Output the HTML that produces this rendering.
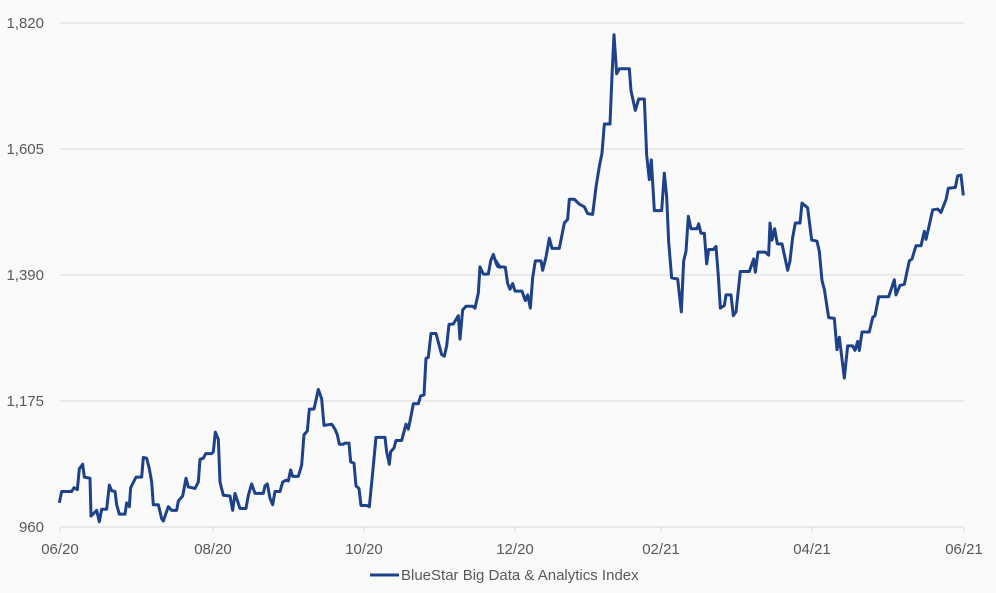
<!DOCTYPE html>
<html><head><meta charset="utf-8"><style>
html,body{margin:0;padding:0;background:#fafafa;}
svg{display:block;font-family:"Liberation Sans",sans-serif;}
</style></head><body>
<svg width="996" height="593" viewBox="0 0 996 593">
<rect width="996" height="593" fill="#fafafa"/>
<g stroke="#d9d9d9" stroke-width="1">
<line x1="60" y1="23" x2="964" y2="23"/>
<line x1="60" y1="149" x2="964" y2="149"/>
<line x1="60" y1="275" x2="964" y2="275"/>
<line x1="60" y1="401" x2="964" y2="401"/>
<line x1="60" y1="527" x2="964" y2="527"/>
<line x1="60" y1="527" x2="60" y2="533"/>
<line x1="213" y1="527" x2="213" y2="533"/>
<line x1="364" y1="527" x2="364" y2="533"/>
<line x1="515" y1="527" x2="515" y2="533"/>
<line x1="661" y1="527" x2="661" y2="533"/>
<line x1="812" y1="527" x2="812" y2="533"/>
<line x1="964" y1="527" x2="964" y2="533"/>
</g>
<g fill="#595959" font-size="15" text-anchor="end">
<text x="44" y="28">1,820</text>
<text x="44" y="154">1,605</text>
<text x="44" y="280">1,390</text>
<text x="44" y="406">1,175</text>
<text x="44" y="532">960</text>
</g>
<g fill="#595959" font-size="15" text-anchor="middle">
<text x="60" y="554">06/20</text>
<text x="213" y="554">08/20</text>
<text x="364" y="554">10/20</text>
<text x="515" y="554">12/20</text>
<text x="661" y="554">02/21</text>
<text x="812" y="554">04/21</text>
<text x="964" y="554">06/21</text>
</g>
<g transform="scale(0.33333,0.37807)">
<polyline fill="none" stroke="#1d4289" stroke-width="3" vector-effect="non-scaling-stroke" stroke-linejoin="round" points="178,1330 185,1300 215,1300 222,1290 232,1295 238,1240 248,1228 253,1262 270,1265 273,1365 290,1350 298,1380 305,1347 320,1347 328,1283 335,1298 345,1300 350,1335 358,1360 375,1360 380,1330 388,1340 392,1290 408,1262 425,1262 430,1210 440,1212 448,1240 455,1275 460,1335 475,1335 485,1372 490,1378 505,1340 515,1350 530,1350 535,1325 548,1312 558,1265 565,1288 585,1292 595,1275 600,1215 610,1212 617,1200 635,1200 640,1195 646,1143 655,1162 660,1275 670,1310 690,1312 698,1350 705,1305 720,1345 738,1345 745,1310 755,1280 765,1305 790,1305 795,1285 802,1280 810,1318 818,1335 825,1300 840,1300 848,1275 858,1270 865,1272 872,1243 878,1260 895,1260 905,1230 912,1150 922,1140 928,1082 942,1082 955,1030 965,1055 972,1125 995,1122 1005,1135 1012,1150 1018,1175 1030,1175 1035,1172 1047,1172 1052,1222 1062,1225 1068,1285 1077,1292 1083,1337 1100,1337 1108,1340 1118,1250 1128,1157 1155,1157 1160,1195 1168,1228 1172,1195 1182,1185 1188,1165 1205,1165 1218,1122 1225,1135 1232,1105 1240,1068 1255,1068 1262,1047 1272,1045 1278,948 1285,945 1293,882 1308,882 1325,938 1333,942 1340,915 1347,858 1360,857 1375,835 1380,897 1388,820 1398,810 1418,810 1425,815 1435,775 1440,706 1450,725 1465,725 1472,690 1480,673 1490,700 1500,707 1488,690 1493,705 1516,707 1523,750 1530,765 1538,750 1545,770 1566,770 1576,795 1583,780 1591,815 1598,735 1606,690 1623,690 1628,715 1638,680 1648,630 1656,657 1678,657 1693,590 1703,580 1708,527 1723,527 1738,540 1753,547 1763,565 1778,567 1788,495 1798,440 1806,405 1813,328 1830,328 1836,200 1842,92 1850,195 1858,182 1888,182 1893,240 1906,292 1916,262 1933,262 1940,410 1948,475 1954,423 1963,557 1985,557 1993,458 2000,520 2006,640 2015,735 2033,738 2044,825 2051,690 2058,665 2065,572 2073,605 2091,605 2096,592 2103,617 2113,617 2120,698 2126,660 2140,660 2148,652 2155,730 2161,815 2173,808 2178,780 2193,780 2200,835 2208,825 2221,718 2248,718 2261,685 2266,720 2274,667 2296,667 2306,675 2310,590 2316,635 2324,605 2332,645 2346,645 2363,715 2370,690 2378,628 2386,590 2400,590 2406,537 2423,550 2435,635 2451,638 2458,665 2466,742 2473,765 2486,840 2503,842 2511,925 2518,892 2533,1000 2543,915 2558,915 2565,927 2573,903 2578,927 2586,878 2608,878 2618,840 2625,835 2636,785 2666,785 2683,740 2688,780 2700,755 2713,752 2728,690 2736,685 2748,650 2763,650 2773,612 2778,633 2788,595 2798,555 2813,553 2823,562 2838,528 2845,498 2866,496 2873,465 2883,463 2890,517"/>
</g>
<line x1="370" y1="575" x2="399" y2="575" stroke="#1d4289" stroke-width="3"/>
<text x="401" y="580" font-size="15" fill="#595959">BlueStar Big Data &amp; Analytics Index</text>
</svg>
</body></html>
